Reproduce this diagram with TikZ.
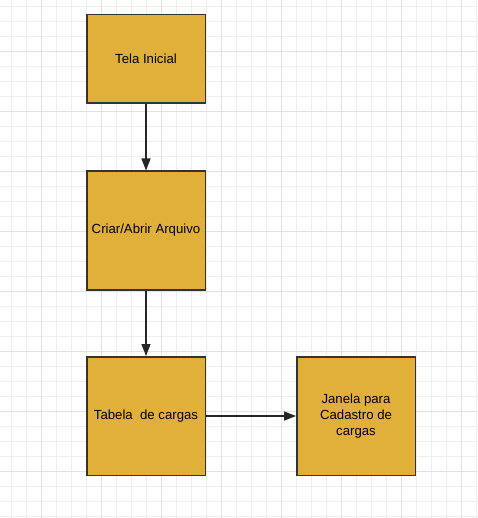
\documentclass[tikz,border=0pt]{standalone}
\usepackage{fontspec}
\setmainfont{Liberation Sans}
\usetikzlibrary{arrows.meta}
\definecolor{boxfill}{HTML}{E0B038}
\definecolor{boxline}{HTML}{333333}
\definecolor{gridminor}{HTML}{EEEEEE}
\definecolor{gridmajor}{HTML}{E2E2E2}
\tikzset{
	box/.style={draw=boxline, fill=boxfill, line width=1.5pt, minimum width=118.5pt, align=center, inner sep=2pt},
	seta/.style={draw=black!85, line width=1.3pt, -{Triangle[length=12pt, width=9pt]}},
}

\begin{document}
\begin{tikzpicture}[x=1pt, y=-1pt, font=\fontsize{13.2}{16}\selectfont]
		\useasboundingbox(0, 0) rectangle (477, 518);
		\fill[white](0, 0) rectangle (477, 518);
		% grade de fundo
		\foreach \x in {11.7, 26.7, ..., 477}\draw[gridminor, line width=.8pt](\x, 0)--(\x, 518);
		\foreach \y in {6, 21, ..., 518}\draw[gridminor, line width=.8pt](0, \y)--(477, \y);
		\foreach \x in {41.7, 101.7, ..., 477}\draw[gridmajor, line width=.9pt](\x, 0)--(\x, 518);
		\foreach \y in {51, 111, ..., 518}\draw[gridmajor, line width=.9pt](0, \y)--(477, \y);
		% caixas
		\node[box, minimum height=88.5pt](tela) at(146, 59){Tela Inicial};
		\node[box, minimum height=118.5pt](arquivo) at(146, 230.5){Criar/Abrir Arquivo};
		\node[box, minimum height=118.5pt](tabela) at(146, 416){Tabela\ \ de cargas};
		\node[box, minimum height=118.5pt](janela) at(356, 416){Janela para\\Cadastro de\\cargas};
		% setas
		\draw[seta](tela)--(arquivo);
		\draw[seta](arquivo)--(tabela);
		\draw[seta](tabela)--(janela);
	\end{tikzpicture}
\end{document}
